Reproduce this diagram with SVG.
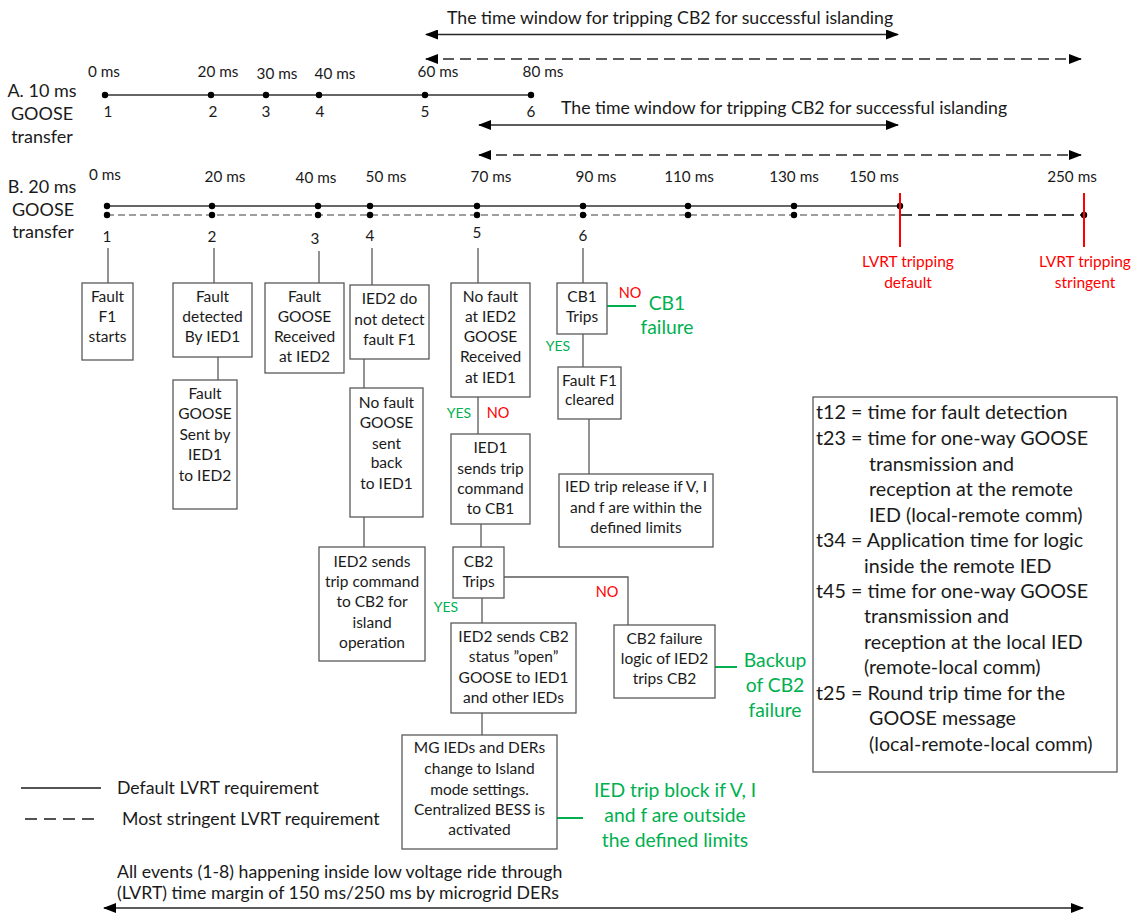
<svg xmlns="http://www.w3.org/2000/svg" width="1133" height="914" viewBox="0 0 1133 914">
<style>
text{font-family:Lato,"Liberation Sans",sans-serif;fill:#1a1a1a}
.box{fill:#fff;stroke:#595959;stroke-width:1.3}
.bt{font-size:15.5px;text-anchor:middle}
.lb{font-size:15.3px;text-anchor:middle}
.side{font-size:18px;text-anchor:middle}
.big{font-size:17.7px}
.leg{font-size:19.7px}
.gt{font-size:19.3px;fill:#00b050;text-anchor:middle}
.yes{font-size:14px;fill:#00b050;text-anchor:middle}
.no{font-size:14.5px;fill:#ff0000;text-anchor:middle}
.red{font-size:15.5px;fill:#ff0000;text-anchor:middle}
.cn{stroke:#595959;stroke-width:1.3;fill:none}
.gl{stroke:#00b050;stroke-width:2;fill:none}
.ar{stroke:#262626;stroke-width:1.5;fill:none}
.ard{stroke:#262626;stroke-width:1.5;fill:none;stroke-dasharray:11 6}
.tl{stroke:#333;stroke-width:1.4}
.tld{stroke:#7f7f7f;stroke-width:1.4;stroke-dasharray:7 4}
.tld2{stroke:#404040;stroke-width:2;stroke-dasharray:12 6}
.rl{stroke:#ff0000;stroke-width:2}
.dot{fill:#000}
</style>
<defs>
<marker id="ah" markerUnits="userSpaceOnUse" markerWidth="13" markerHeight="10" refX="12" refY="5" orient="auto-start-reverse">
<path d="M0,0 L13,5 L0,10 Z" fill="#000"/>
</marker>
</defs>

<!-- Top window arrows -->
<g id="window-A">
<text class="big" x="447" y="24">The time window for tripping CB2 for successful islanding</text>
<line class="ar" x1="426" y1="34.5" x2="898" y2="34.5" marker-start="url(#ah)" marker-end="url(#ah)"/>
<line class="ard" x1="426" y1="59" x2="1081" y2="59" marker-start="url(#ah)" marker-end="url(#ah)"/>
</g>

<!-- Timeline A -->
<g id="timeline-A">
<text class="side" x="42" y="97">A. 10 ms</text>
<text class="side" x="42" y="120">GOOSE</text>
<text class="side" x="42" y="143">transfer</text>
<line class="tl" x1="105" y1="95" x2="531" y2="95"/>
<circle class="dot" cx="105" cy="95" r="3.2"/>
<circle class="dot" cx="211" cy="95" r="3.2"/>
<circle class="dot" cx="266" cy="95" r="3.2"/>
<circle class="dot" cx="319" cy="95" r="3.2"/>
<circle class="dot" cx="425" cy="95" r="3.2"/>
<circle class="dot" cx="531" cy="95" r="3.2"/>
<text class="lb" x="104" y="77">0 ms</text>
<text class="lb" x="218" y="77">20 ms</text>
<text class="lb" x="277" y="79">30 ms</text>
<text class="lb" x="335" y="79">40 ms</text>
<text class="lb" x="438" y="77">60 ms</text>
<text class="lb" x="543" y="77">80 ms</text>
<text class="lb" x="108" y="117">1</text>
<text class="lb" x="213" y="117">2</text>
<text class="lb" x="266" y="117">3</text>
<text class="lb" x="320" y="117">4</text>
<text class="lb" x="425" y="117">5</text>
<text class="lb" x="531" y="117">6</text>
</g>

<g id="window-B">
<text class="big" x="561" y="114">The time window for tripping CB2 for successful islanding</text>
<line class="ar" x1="479" y1="125" x2="898" y2="125" marker-start="url(#ah)" marker-end="url(#ah)"/>
<line class="ard" x1="479" y1="155" x2="1081" y2="155" marker-start="url(#ah)" marker-end="url(#ah)"/>
</g>

<!-- Timeline B -->
<g id="timeline-B">
<text class="side" x="42" y="193">B. 20 ms</text>
<text class="side" x="43" y="216">GOOSE</text>
<text class="side" x="43" y="238">transfer</text>
<line class="tl" x1="107" y1="206" x2="900" y2="206"/>
<line class="tld" x1="107" y1="215" x2="900" y2="215"/>
<line class="tld2" x1="900" y1="215" x2="1085" y2="215"/>
<g>
<circle class="dot" cx="107" cy="206" r="3.2"/><circle class="dot" cx="107" cy="215" r="3.2"/>
<circle class="dot" cx="212" cy="206" r="3.2"/><circle class="dot" cx="212" cy="215" r="3.2"/>
<circle class="dot" cx="318" cy="206" r="3.2"/><circle class="dot" cx="318" cy="215" r="3.2"/>
<circle class="dot" cx="370" cy="206" r="3.2"/><circle class="dot" cx="370" cy="215" r="3.2"/>
<circle class="dot" cx="477" cy="206" r="3.2"/><circle class="dot" cx="477" cy="215" r="3.2"/>
<circle class="dot" cx="583" cy="206" r="3.2"/><circle class="dot" cx="583" cy="215" r="3.2"/>
<circle class="dot" cx="688" cy="206" r="3.2"/><circle class="dot" cx="688" cy="215" r="3.2"/>
<circle class="dot" cx="794" cy="206" r="3.2"/><circle class="dot" cx="794" cy="215" r="3.2"/>
<circle class="dot" cx="900" cy="206" r="3.2"/>
<circle class="dot" cx="1084" cy="215" r="3.2"/>
</g>
<line class="rl" x1="900" y1="193" x2="900" y2="247"/>
<line class="rl" x1="1084" y1="193" x2="1084" y2="247"/>
<text class="lb" x="105" y="180">0 ms</text>
<text class="lb" x="225" y="182">20 ms</text>
<text class="lb" x="316" y="183">40 ms</text>
<text class="lb" x="386" y="182">50 ms</text>
<text class="lb" x="491" y="182">70 ms</text>
<text class="lb" x="596" y="182">90 ms</text>
<text class="lb" x="689" y="182">110 ms</text>
<text class="lb" x="794" y="182">130 ms</text>
<text class="lb" x="874" y="182">150 ms</text>
<text class="lb" x="1072" y="182">250 ms</text>
<text class="lb" x="107" y="242">1</text>
<text class="lb" x="212" y="242">2</text>
<text class="lb" x="315" y="244">3</text>
<text class="lb" x="370" y="241">4</text>
<text class="lb" x="477" y="238">5</text>
<text class="lb" x="583" y="241">6</text>
<text class="red" x="908" y="267">LVRT tripping</text>
<text class="red" x="908" y="288">default</text>
<text class="red" x="1085" y="267">LVRT tripping</text>
<text class="red" x="1085" y="288">stringent</text>
</g>

<!-- Connectors -->
<g id="connectors">
<line class="cn" x1="108" y1="248" x2="108" y2="283"/>
<line class="cn" x1="214" y1="248" x2="214" y2="283"/>
<line class="cn" x1="218" y1="357" x2="218" y2="380"/>
<line class="cn" x1="319" y1="251" x2="319" y2="283"/>
<line class="cn" x1="372" y1="248" x2="372" y2="285"/>
<line class="cn" x1="364" y1="359" x2="364" y2="388"/>
<line class="cn" x1="364" y1="517" x2="364" y2="547"/>
<line class="cn" x1="478" y1="248" x2="478" y2="283"/>
<line class="cn" x1="478" y1="397" x2="478" y2="434"/>
<line class="cn" x1="481" y1="524" x2="481" y2="547"/>
<line class="cn" x1="583" y1="248" x2="583" y2="283"/>
<line class="cn" x1="583" y1="334" x2="583" y2="367"/>
<line class="cn" x1="589" y1="419" x2="589" y2="474"/>
<polyline class="cn" points="504,577 628,577 628,625"/>
<line class="cn" x1="482" y1="598" x2="482" y2="623"/>
<line class="cn" x1="482" y1="713" x2="482" y2="735"/>
<line class="gl" x1="607" y1="306" x2="636" y2="306"/>
<line class="gl" x1="715" y1="667" x2="737" y2="667"/>
<line class="gl" x1="557" y1="818" x2="583" y2="818"/>
<text class="yes" x="459" y="418">YES</text>
<text class="no" x="498" y="418">NO</text>
<text class="no" x="630" y="298">NO</text>
<text class="yes" x="558" y="351">YES</text>
<text class="no" x="607" y="597">NO</text>
<text class="yes" x="446" y="612">YES</text>
</g>

<!-- Nodes -->
<g id="n1"><rect class="box" x="82" y="283" width="51" height="77"/>
<text class="bt" x="107.5" y="302">Fault</text><text class="bt" x="107.5" y="321.5">F1</text><text class="bt" x="107.5" y="342">starts</text></g>

<g id="n2"><rect class="box" x="173" y="283" width="79" height="74"/>
<text class="bt" x="212.5" y="302">Fault</text><text class="bt" x="212.5" y="321.5">detected</text><text class="bt" x="212.5" y="342">By IED1</text></g>

<g id="n3"><rect class="box" x="173" y="380" width="64" height="129"/>
<text class="bt" x="205" y="398.5">Fault</text><text class="bt" x="205" y="418.5">GOOSE</text><text class="bt" x="205" y="439.5">Sent by</text><text class="bt" x="205" y="459.5">IED1</text><text class="bt" x="205" y="480.5">to IED2</text></g>

<g id="n4"><rect class="box" x="265" y="283" width="79" height="90"/>
<text class="bt" x="304.5" y="302">Fault</text><text class="bt" x="304.5" y="321.5">GOOSE</text><text class="bt" x="304.5" y="342">Received</text><text class="bt" x="304.5" y="362">at IED2</text></g>

<g id="n5"><rect class="box" x="350" y="285" width="79" height="74"/>
<text class="bt" x="389.5" y="303.5">IED2 do</text><text class="bt" x="389.5" y="324.5">not detect</text><text class="bt" x="389.5" y="344.5">fault F1</text></g>

<g id="n6"><rect class="box" x="350" y="388" width="73" height="129"/>
<text class="bt" x="386.5" y="407.5">No fault</text><text class="bt" x="386.5" y="427.5">GOOSE</text><text class="bt" x="386.5" y="448.5">sent</text><text class="bt" x="386.5" y="467.5">back</text><text class="bt" x="386.5" y="488.5">to IED1</text></g>

<g id="n7"><rect class="box" x="319" y="547" width="106" height="114"/>
<text class="bt" x="372" y="566.5">IED2 sends</text><text class="bt" x="372" y="586.5">trip command</text><text class="bt" x="372" y="606.5">to CB2 for</text><text class="bt" x="372" y="627.5">island</text><text class="bt" x="372" y="647.5">operation</text></g>

<g id="n8"><rect class="box" x="451" y="283" width="79" height="114"/>
<text class="bt" x="490.5" y="302">No fault</text><text class="bt" x="490.5" y="322">at IED2</text><text class="bt" x="490.5" y="342">GOOSE</text><text class="bt" x="490.5" y="362">Received</text><text class="bt" x="490.5" y="383">at IED1</text></g>

<g id="n9"><rect class="box" x="451" y="434" width="79" height="90"/>
<text class="bt" x="490.5" y="452.5">IED1</text><text class="bt" x="490.5" y="473.5">sends trip</text><text class="bt" x="490.5" y="493.5">command</text><text class="bt" x="490.5" y="513.5">to CB1</text></g>

<g id="n10"><rect class="box" x="557" y="283" width="50" height="51"/>
<text class="bt" x="582" y="302">CB1</text><text class="bt" x="582" y="321.5">Trips</text></g>

<g id="n11"><rect class="box" x="558" y="367" width="63" height="52"/>
<text class="bt" x="589.5" y="385.5">Fault F1</text><text class="bt" x="589.5" y="405">cleared</text></g>

<g id="n12"><rect class="box" x="559" y="474" width="154" height="73"/>
<text class="bt" x="636" y="491.5">IED trip release if V, I</text><text class="bt" x="636" y="512.5">and f are within the</text><text class="bt" x="636" y="532.5">defined limits</text></g>

<g id="n13"><rect class="box" x="453" y="547" width="51" height="51"/>
<text class="bt" x="478.5" y="566.5">CB2</text><text class="bt" x="478.5" y="586.5">Trips</text></g>

<g id="n14"><rect class="box" x="451" y="623" width="125" height="90"/>
<text class="bt" x="513.5" y="641.5">IED2 sends CB2</text><text class="bt" x="513.5" y="661.5">status ”open”</text><text class="bt" x="513.5" y="682.5">GOOSE to IED1</text><text class="bt" x="513.5" y="702.5">and other IEDs</text></g>

<g id="n15"><rect class="box" x="614" y="625" width="101" height="73"/>
<text class="bt" x="664.5" y="643.5">CB2 failure</text><text class="bt" x="664.5" y="663.5">logic of IED2</text><text class="bt" x="664.5" y="683.5">trips CB2</text></g>

<g id="n16"><rect class="box" x="402" y="735" width="155" height="114"/>
<text class="bt" x="479.5" y="752.5">MG IEDs and DERs</text><text class="bt" x="479.5" y="773.5">change to Island</text><text class="bt" x="479.5" y="794.5">mode settings.</text><text class="bt" x="479.5" y="814.5">Centralized BESS is</text><text class="bt" x="479.5" y="834.5">activated</text></g>

<!-- green annotations -->
<g id="cb1-failure"><text class="gt" x="667" y="310">CB1</text><text class="gt" x="667" y="334">failure</text></g>
<g id="backup"><text class="gt" x="775" y="667">Backup</text><text class="gt" x="775" y="692">of CB2</text><text class="gt" x="775" y="717">failure</text></g>
<g id="trip-block"><text class="gt" x="675" y="797">IED trip block if V, I</text><text class="gt" x="675" y="822">and f are outside</text><text class="gt" x="675" y="847">the defined limits</text></g>

<!-- definitions box -->
<g id="definitions">
<rect class="box" x="813" y="397" width="304" height="375"/>
<text class="leg" x="816" y="418.5">t12 = time for fault detection</text>
<text class="leg" x="816" y="444.5">t23 = time for one-way GOOSE</text>
<text class="leg" x="869" y="470.5">transmission and</text>
<text class="leg" x="869" y="495.5">reception at the remote</text>
<text class="leg" x="869" y="521.5">IED (local-remote comm)</text>
<text class="leg" x="816" y="546.5">t34 = Application time for logic</text>
<text class="leg" x="864" y="572.5">inside the remote IED</text>
<text class="leg" x="816" y="597.5">t45 = time for one-way GOOSE</text>
<text class="leg" x="864" y="622.5">transmission and</text>
<text class="leg" x="864" y="648.5">reception at the local IED</text>
<text class="leg" x="864" y="673.5">(remote-local comm)</text>
<text class="leg" x="816" y="699.5">t25 = Round trip time for the</text>
<text class="leg" x="869" y="724.5">GOOSE message</text>
<text class="leg" x="869" y="750.5">(local-remote-local comm)</text>
</g>

<!-- legend -->
<g id="legend">
<line x1="21" y1="788" x2="101" y2="788" stroke="#1a1a1a" stroke-width="1.4"/>
<text class="big" x="117" y="794">Default LVRT requirement</text>
<line x1="25" y1="819" x2="95" y2="819" stroke="#1a1a1a" stroke-width="1.4" stroke-dasharray="12 7"/>
<text class="big" x="122" y="825">Most stringent LVRT requirement</text>
</g>

<g id="lvrt-margin">
<text class="big" x="117" y="878">All events (1-8) happening inside low voltage ride through</text>
<text class="big" x="117" y="899">(LVRT) time margin of 150 ms/250 ms by microgrid DERs</text>
<line class="ar" x1="104" y1="908" x2="1083" y2="908" marker-start="url(#ah)" marker-end="url(#ah)"/>
</g>
</svg>
